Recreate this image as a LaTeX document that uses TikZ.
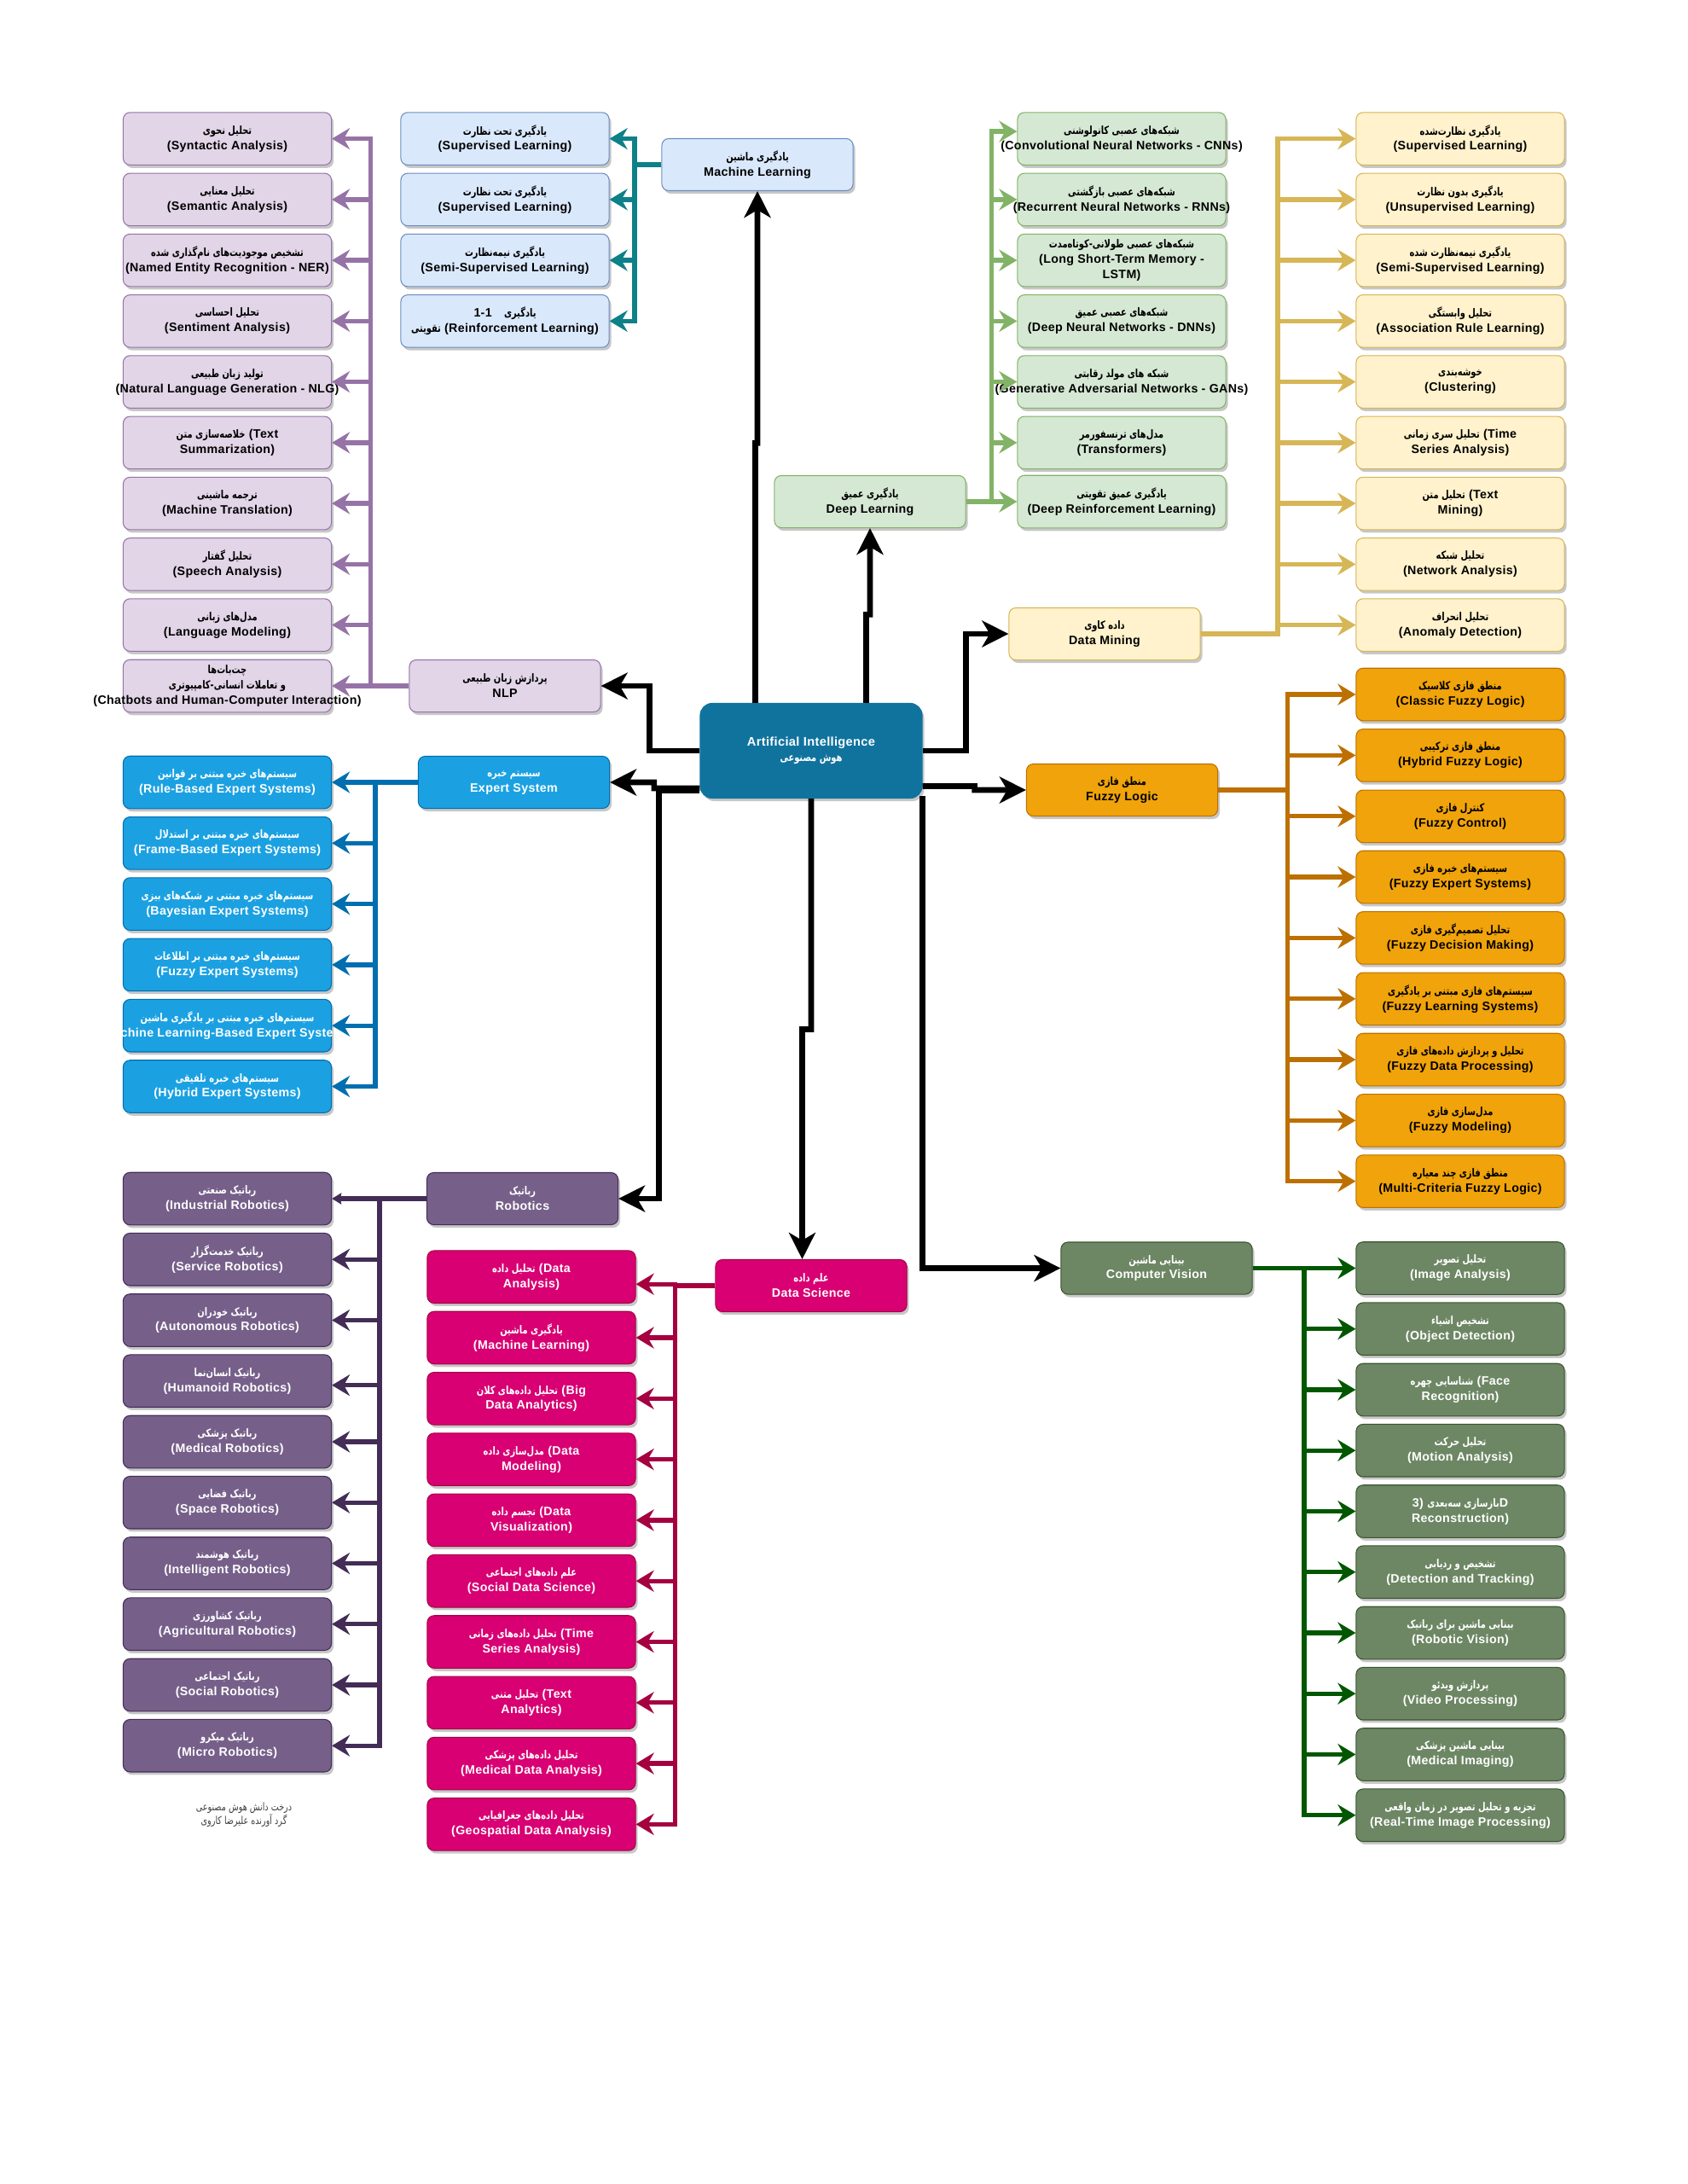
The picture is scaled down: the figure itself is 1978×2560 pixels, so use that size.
\documentclass[tikz,border=0pt]{standalone}
\usepackage{fontspec}
\setmainfont[LetterSpace=2.4]{Liberation Sans}
\newfontfamily\farsi[Script=Arabic,FakeStretch=0.76]{DejaVu Sans}
\TeXXeTstate=1
\usetikzlibrary{arrows.meta,shadows}

\newcommand{\fa}[1]{{\farsi\fontsize{3.7}{5}\selectfont\beginR #1\endR}}
\newcommand{\tline}[1]{\makebox[0pt]{#1}}
\newcommand{\leaf}[2]{\tline{\fa{#1}}\\\tline{#2}}

\definecolor{nlpfill}{HTML}{E1D5E7}\definecolor{nlpline}{HTML}{9673A6}
\definecolor{mlfill}{HTML}{DAE8FC}\definecolor{mlline}{HTML}{6C8EBF}\definecolor{mledge}{HTML}{0E8088}
\definecolor{dlfill}{HTML}{D5E8D4}\definecolor{dlline}{HTML}{82B366}
\definecolor{dmfill}{HTML}{FFF2CC}\definecolor{dmline}{HTML}{D6B656}
\definecolor{fzfill}{HTML}{F0A30A}\definecolor{fzline}{HTML}{BD7000}
\definecolor{esfill}{HTML}{1BA1E2}\definecolor{esline}{HTML}{006EAF}
\definecolor{rbfill}{HTML}{76608A}\definecolor{rbline}{HTML}{432D57}
\definecolor{dsfill}{HTML}{D80073}\definecolor{dsline}{HTML}{A50040}
\definecolor{cvfill}{HTML}{6D8764}\definecolor{cvline}{HTML}{3A5431}\definecolor{cvedge}{HTML}{005700}
\definecolor{aifill}{HTML}{10739E}

\tikzset{
  kbox/.style={draw,rounded corners=0.08cm,inner sep=0pt,align=center,line width=0.3pt,
    font=\fontsize{4.05}{5.1}\selectfont\bfseries,
    execute at begin node={\rule{0pt}{7.2pt}},
    drop shadow={shadow xshift=0.025cm,shadow yshift=-0.035cm,opacity=0.22,fill=black}},
  leafbox/.style={kbox,minimum width=2.44cm,minimum height=0.615cm},
  rootbox/.style={kbox,minimum width=2.24cm,minimum height=0.61cm},
  nlpbox/.style={fill=nlpfill,draw=nlpline},
  mlbox/.style={fill=mlfill,draw=mlline},
  dlbox/.style={fill=dlfill,draw=dlline},
  dmbox/.style={fill=dmfill,draw=dmline},
  fzbox/.style={fill=fzfill,draw=fzline},
  esbox/.style={fill=esfill,draw=esline,text=white},
  rbbox/.style={fill=rbfill,draw=rbline,text=white},
  dsbox/.style={fill=dsfill,draw=dsline,text=white},
  cvbox/.style={fill=cvfill,draw=cvline,text=white},
  branch/.style={line width=1.5pt,miter limit=10,-{Stealth[length=0.21cm,width=0.25cm,inset=0.07cm]}},
  smalltip/.style={line width=1.5pt,-{Stealth[length=0.11cm,width=0.13cm,inset=0.01cm]}},
  mainedge/.style={line width=1.9pt,black,-{Stealth[length=0.31cm,width=0.31cm,inset=0.09cm]}},
}

\begin{document}
\begin{tikzpicture}[x=0.01cm,y=-0.01cm]
  \useasboundingbox (0,0) rectangle (1978,2560);

  \node[kbox,fill=aifill,draw=aifill,text=white,rounded corners=0.14cm,minimum width=2.6cm,minimum height=1.11cm,font=\fontsize{4.15}{5.1}\selectfont\bfseries] (ai) at (951,880) {\tline{Artificial Intelligence}\\\tline{\fa{هوش مصنوعی}}};

  % natural language processing
  \node[rootbox,nlpbox] (nlp) at (592,804) {\leaf{پردازش زبان طبیعی}{NLP}};
  \node[leafbox,nlpbox] (nlp1) at (266.5,162.6) {\leaf{تحلیل نحوی}{(Syntactic Analysis)}};
  \node[leafbox,nlpbox] (nlp2) at (266.5,233.9) {\leaf{تحلیل معنایی}{(Semantic Analysis)}};
  \node[leafbox,nlpbox] (nlp3) at (266.5,305.1) {\leaf{تشخیص موجودیت‌های نام‌گذاری شده}{(Named Entity Recognition - NER)}};
  \node[leafbox,nlpbox] (nlp4) at (266.5,376.4) {\leaf{تحلیل احساسی}{(Sentiment Analysis)}};
  \node[leafbox,nlpbox] (nlp5) at (266.5,447.6) {\leaf{تولید زبان طبیعی}{(Natural Language Generation - NLG)}};
  \node[leafbox,nlpbox] (nlp6) at (266.5,518.9) {\tline{\fa{خلاصه‌سازی متن} (Text}\\\tline{Summarization)}};
  \node[leafbox,nlpbox] (nlp7) at (266.5,590.1) {\leaf{ترجمه ماشینی}{(Machine Translation)}};
  \node[leafbox,nlpbox] (nlp8) at (266.5,661.4) {\leaf{تحلیل گفتار}{(Speech Analysis)}};
  \node[leafbox,nlpbox] (nlp9) at (266.5,732.6) {\leaf{مدل‌های زبانی}{(Language Modeling)}};
  \node[leafbox,nlpbox] (nlp10) at (266.5,804) {\tline{\fa{چت‌بات‌ها}}\\\tline{\fa{و تعاملات انسانی-کامپیوتری}}\\\tline{(Chatbots and Human-Computer Interaction)}};

  % machine learning
  \node[rootbox,mlbox] (ml) at (888,193) {\leaf{یادگیری ماشین}{Machine Learning}};
  \node[leafbox,mlbox] (ml1) at (592,162.6) {\leaf{یادگیری تحت نظارت}{(Supervised Learning)}};
  \node[leafbox,mlbox] (ml2) at (592,233.9) {\leaf{یادگیری تحت نظارت}{(Supervised Learning)}};
  \node[leafbox,mlbox] (ml3) at (592,305.1) {\leaf{یادگیری نیمه‌نظارت}{(Semi-Supervised Learning)}};
  \node[leafbox,mlbox] (ml4) at (592,376.4) {\tline{1-1\quad\fa{یادگیری}}\\\tline{\fa{تقویتی} (Reinforcement Learning)}};

  % deep learning
  \node[rootbox,dlbox] (dl) at (1020,588) {\leaf{یادگیری عمیق}{Deep Learning}};
  \node[leafbox,dlbox] (dl1) at (1315,162.6) {\leaf{شبکه‌های عصبی کانولوشنی}{(Convolutional Neural Networks - CNNs)}};
  \node[leafbox,dlbox] (dl2) at (1315,233.9) {\leaf{شبکه‌های عصبی بازگشتی}{(Recurrent Neural Networks - RNNs)}};
  \node[leafbox,dlbox] (dl3) at (1315,305.1) {\tline{\fa{شبکه‌های عصبی طولانی-کوتاه‌مدت}}\\\tline{(Long Short-Term Memory -}\\\tline{LSTM)}};
  \node[leafbox,dlbox] (dl4) at (1315,376.4) {\leaf{شبکه‌های عصبی عمیق}{(Deep Neural Networks - DNNs)}};
  \node[leafbox,dlbox] (dl5) at (1315,447.6) {\leaf{شبکه های مولد رقابتی}{(Generative Adversarial Networks - GANs)}};
  \node[leafbox,dlbox] (dl6) at (1315,518.9) {\leaf{مدل‌های ترنسفورمر}{(Transformers)}};
  \node[leafbox,dlbox] (dl7) at (1315,588) {\leaf{یادگیری عمیق تقویتی}{(Deep Reinforcement Learning)}};

  % data mining
  \node[rootbox,dmbox] (dm) at (1295,743) {\leaf{داده کاوی}{Data Mining}};
  \node[leafbox,dmbox] (dm1) at (1712,162.6) {\leaf{یادگیری نظارت‌شده}{(Supervised Learning)}};
  \node[leafbox,dmbox] (dm2) at (1712,233.9) {\leaf{یادگیری بدون نظارت}{(Unsupervised Learning)}};
  \node[leafbox,dmbox] (dm3) at (1712,305.1) {\leaf{یادگیری نیمه‌نظارت شده}{(Semi-Supervised Learning)}};
  \node[leafbox,dmbox] (dm4) at (1712,376.4) {\leaf{تحلیل وابستگی}{(Association Rule Learning)}};
  \node[leafbox,dmbox] (dm5) at (1712,447.6) {\leaf{خوشه‌بندی}{(Clustering)}};
  \node[leafbox,dmbox] (dm6) at (1712,518.9) {\tline{\fa{تحلیل سری زمانی} (Time}\\\tline{Series Analysis)}};
  \node[leafbox,dmbox] (dm7) at (1712,590.1) {\tline{\fa{تحلیل متن} (Text}\\\tline{Mining)}};
  \node[leafbox,dmbox] (dm8) at (1712,661.4) {\leaf{تحلیل شبکه}{(Network Analysis)}};
  \node[leafbox,dmbox] (dm9) at (1712,732.6) {\leaf{تحلیل انحراف}{(Anomaly Detection)}};

  % fuzzy logic
  \node[rootbox,fzbox] (fz) at (1315.5,926) {\leaf{منطق فازی}{Fuzzy Logic}};
  \node[leafbox,fzbox] (fz1) at (1712,814) {\leaf{منطق فازی کلاسیک}{(Classic Fuzzy Logic)}};
  \node[leafbox,fzbox] (fz2) at (1712,885.4) {\leaf{منطق فازی ترکیبی}{(Hybrid Fuzzy Logic)}};
  \node[leafbox,fzbox] (fz3) at (1712,956.8) {\leaf{کنترل فازی}{(Fuzzy Control)}};
  \node[leafbox,fzbox] (fz4) at (1712,1028) {\leaf{سیستم‌های خبره فازی}{(Fuzzy Expert Systems)}};
  \node[leafbox,fzbox] (fz5) at (1712,1099.4) {\leaf{تحلیل تصمیم‌گیری فازی}{(Fuzzy Decision Making)}};
  \node[leafbox,fzbox] (fz6) at (1712,1170.8) {\leaf{سیستم‌های فازی مبتنی بر یادگیری}{(Fuzzy Learning Systems)}};
  \node[leafbox,fzbox] (fz7) at (1712,1242) {\leaf{تحلیل و پردازش داده‌های فازی}{(Fuzzy Data Processing)}};
  \node[leafbox,fzbox] (fz8) at (1712,1313.4) {\leaf{مدل‌سازی فازی}{(Fuzzy Modeling)}};
  \node[leafbox,fzbox] (fz9) at (1712,1384.6) {\leaf{منطق فازی چند معیاره}{(Multi-Criteria Fuzzy Logic)}};

  % expert systems
  \node[rootbox,esbox] (es) at (602.5,917) {\leaf{سیستم خبره}{Expert System}};
  \node[leafbox,esbox] (es1) at (266.5,917) {\leaf{سیستم‌های خبره مبتنی بر قوانین}{(Rule-Based Expert Systems)}};
  \node[leafbox,esbox] (es2) at (266.5,988.3) {\leaf{سیستم‌های خبره مبتنی بر استدلال}{(Frame-Based Expert Systems)}};
  \node[leafbox,esbox] (es3) at (266.5,1059.6) {\leaf{سیستم‌های خبره مبتنی بر شبکه‌های بیزی}{(Bayesian Expert Systems)}};
  \node[leafbox,esbox] (es4) at (266.5,1130.9) {\leaf{سیستم‌های خبره مبتنی بر اطلاعات}{(Fuzzy Expert Systems)}};
  \node[leafbox,esbox] (es5) at (266.5,1202.2) {\leaf{سیستم‌های خبره مبتنی بر یادگیری ماشین}{(Machine Learning-Based Expert Systems)}};
  \node[leafbox,esbox] (es6) at (266.5,1273.5) {\leaf{سیستم‌های خبره تلفیقی}{(Hybrid Expert Systems)}};

  % robotics
  \node[rootbox,rbbox] (rb) at (612.5,1405) {\leaf{رباتیک}{Robotics}};
  \node[leafbox,rbbox] (rb1) at (266.5,1405) {\leaf{رباتیک صنعتی}{(Industrial Robotics)}};
  \node[leafbox,rbbox] (rb2) at (266.5,1476.2) {\leaf{رباتیک خدمت‌گزار}{(Service Robotics)}};
  \node[leafbox,rbbox] (rb3) at (266.5,1547.5) {\leaf{رباتیک خودران}{(Autonomous Robotics)}};
  \node[leafbox,rbbox] (rb4) at (266.5,1618.7) {\leaf{رباتیک انسان‌نما}{(Humanoid Robotics)}};
  \node[leafbox,rbbox] (rb5) at (266.5,1690) {\leaf{رباتیک پزشکی}{(Medical Robotics)}};
  \node[leafbox,rbbox] (rb6) at (266.5,1761.2) {\leaf{رباتیک فضایی}{(Space Robotics)}};
  \node[leafbox,rbbox] (rb7) at (266.5,1832.5) {\leaf{رباتیک هوشمند}{(Intelligent Robotics)}};
  \node[leafbox,rbbox] (rb8) at (266.5,1903.7) {\leaf{رباتیک کشاورزی}{(Agricultural Robotics)}};
  \node[leafbox,rbbox] (rb9) at (266.5,1975) {\leaf{رباتیک اجتماعی}{(Social Robotics)}};
  \node[leafbox,rbbox] (rb10) at (266.5,2046.2) {\leaf{رباتیک میکرو}{(Micro Robotics)}};

  % data science
  \node[rootbox,dsbox] (ds) at (951,1507) {\leaf{علم داده}{Data Science}};
  \node[leafbox,dsbox] (ds1) at (623,1496.7) {\tline{\fa{تحلیل داده} (Data}\\\tline{Analysis)}};
  \node[leafbox,dsbox] (ds2) at (623,1568) {\leaf{یادگیری ماشین}{(Machine Learning)}};
  \node[leafbox,dsbox] (ds3) at (623,1639.3) {\tline{\fa{تحلیل داده‌های کلان} (Big}\\\tline{Data Analytics)}};
  \node[leafbox,dsbox] (ds4) at (623,1710.6) {\tline{\fa{مدل‌سازی داده} (Data}\\\tline{Modeling)}};
  \node[leafbox,dsbox] (ds5) at (623,1781.9) {\tline{\fa{تجسم داده} (Data}\\\tline{Visualization)}};
  \node[leafbox,dsbox] (ds6) at (623,1853.2) {\leaf{علم داده‌های اجتماعی}{(Social Data Science)}};
  \node[leafbox,dsbox] (ds7) at (623,1924.5) {\tline{\fa{تحلیل داده‌های زمانی} (Time}\\\tline{Series Analysis)}};
  \node[leafbox,dsbox] (ds8) at (623,1995.8) {\tline{\fa{تحلیل متنی} (Text}\\\tline{Analytics)}};
  \node[leafbox,dsbox] (ds9) at (623,2067.1) {\leaf{تحلیل داده‌های پزشکی}{(Medical Data Analysis)}};
  \node[leafbox,dsbox] (ds10) at (623,2138.4) {\leaf{تحلیل داده‌های جغرافیایی}{(Geospatial Data Analysis)}};

  % computer vision
  \node[rootbox,cvbox] (cv) at (1356,1486.5) {\leaf{بینایی ماشین}{Computer Vision}};
  \node[leafbox,cvbox] (cv1) at (1712,1486.5) {\leaf{تحلیل تصویر}{(Image Analysis)}};
  \node[leafbox,cvbox] (cv2) at (1712,1557.7) {\leaf{تشخیص اشیاء}{(Object Detection)}};
  \node[leafbox,cvbox] (cv3) at (1712,1629) {\tline{\fa{شناسایی چهره} (Face}\\\tline{Recognition)}};
  \node[leafbox,cvbox] (cv4) at (1712,1700.2) {\leaf{تحلیل حرکت}{(Motion Analysis)}};
  \node[leafbox,cvbox] (cv5) at (1712,1771.5) {\tline{3)\ \fa{بازسازی سه‌بعدی}D}\\\tline{Reconstruction)}};
  \node[leafbox,cvbox] (cv6) at (1712,1842.7) {\leaf{تشخیص و ردیابی}{(Detection and Tracking)}};
  \node[leafbox,cvbox] (cv7) at (1712,1914) {\leaf{بینایی ماشین برای رباتیک}{(Robotic Vision)}};
  \node[leafbox,cvbox] (cv8) at (1712,1985.2) {\leaf{پردازش ویدئو}{(Video Processing)}};
  \node[leafbox,cvbox] (cv9) at (1712,2056.5) {\leaf{بینایی ماشین پزشکی}{(Medical Imaging)}};
  \node[leafbox,cvbox] (cv10) at (1712,2127.7) {\leaf{تجزیه و تحلیل تصویر در زمان واقعی}{(Real-Time Image Processing)}};

  \node[align=center,text=black!75,font=\fontsize{3.5}{4.4}\selectfont] (credit) at (286,2127) {{\farsi\fontsize{3.6}{4.4}\selectfont\beginR درخت دانش هوش مصنوعی\endR}\\{\farsi\fontsize{3.6}{4.4}\selectfont\beginR گرد آورنده علیرضا کاروی\endR}};

  \coordinate (nlpbus) at (434.6,804);
  \coordinate (mlbus) at (744,193);
  \coordinate (dlbus) at (1162.5,588);
  \coordinate (dmbus) at (1498,743);
  \coordinate (fzbus) at (1509.5,926);
  \coordinate (esbus) at (440,917);
  \coordinate (rbbus) at (445,1405);
  \coordinate (dsbus) at (791.6,1507);
  \coordinate (cvbus) at (1529,1486.5);

  \draw[mainedge] ([xshift=-0.655cm]ai.north) -- ++(0,-304.6) -- ++(2.5,0) -- (ml.south);
  \draw[mainedge] ([xshift=0.645cm]ai.north) -- ++(0,-103.6) -- ++(4.5,0) -- (dl.south);
  \draw[mainedge] (ai.east) -- ++(51,0) |- (dm.west);
  \draw[mainedge] ([yshift=-0.415cm]ai.east) -- ++(61,0) -- ++(0,4.5) -- (fz.west);
  \draw[mainedge] ([yshift=-0.525cm]ai.east) |- (cv.west);
  \draw[mainedge] (ai.south) -- ++(0,270.5) -- ++(-10.5,0) -- ([xshift=-0.105cm]ds.north);
  \draw[mainedge] (ai.west) -- ++(-59,0) |- (nlp.east);
  \draw[mainedge] ([yshift=-0.44cm]ai.west) -- ++(-53.5,0) -- ++(0,-7) -- (es.east);
  \draw[mainedge] ([yshift=-0.47cm]ai.west) -- ++(-48,0) |- (rb.east);

  \draw[branch,nlpline] (nlp.west) -- (nlpbus) |- (nlp1.east);
  \draw[branch,nlpline] (nlp.west) -- (nlpbus) |- (nlp2.east);
  \draw[branch,nlpline] (nlp.west) -- (nlpbus) |- (nlp3.east);
  \draw[branch,nlpline] (nlp.west) -- (nlpbus) |- (nlp4.east);
  \draw[branch,nlpline] (nlp.west) -- (nlpbus) |- (nlp5.east);
  \draw[branch,nlpline] (nlp.west) -- (nlpbus) |- (nlp6.east);
  \draw[branch,nlpline] (nlp.west) -- (nlpbus) |- (nlp7.east);
  \draw[branch,nlpline] (nlp.west) -- (nlpbus) |- (nlp8.east);
  \draw[branch,nlpline] (nlp.west) -- (nlpbus) |- (nlp9.east);
  \draw[branch,nlpline] (nlp.west) -- (nlp10.east);

  \draw[branch,mledge] (ml.west) -- (mlbus) |- (ml1.east);
  \draw[branch,mledge] (ml.west) -- (mlbus) |- (ml2.east);
  \draw[branch,mledge] (ml.west) -- (mlbus) |- (ml3.east);
  \draw[branch,mledge] (ml.west) -- (mlbus) |- (ml4.east);

  \draw[branch,dlline] (dl.east) -- (dlbus) |- ([yshift=0.085cm]dl1.west);
  \draw[branch,dlline] (dl.east) -- (dlbus) |- (dl2.west);
  \draw[branch,dlline] (dl.east) -- (dlbus) |- (dl3.west);
  \draw[branch,dlline] (dl.east) -- (dlbus) |- (dl4.west);
  \draw[branch,dlline] (dl.east) -- (dlbus) |- (dl5.west);
  \draw[branch,dlline] (dl.east) -- (dlbus) |- (dl6.west);
  \draw[branch,dlline] (dl.east) -- (dl7.west);

  \draw[branch,dmline] (dm.east) -- (dmbus) |- (dm1.west);
  \draw[branch,dmline] (dm.east) -- (dmbus) |- (dm2.west);
  \draw[branch,dmline] (dm.east) -- (dmbus) |- (dm3.west);
  \draw[branch,dmline] (dm.east) -- (dmbus) |- (dm4.west);
  \draw[branch,dmline] (dm.east) -- (dmbus) |- (dm5.west);
  \draw[branch,dmline] (dm.east) -- (dmbus) |- (dm6.west);
  \draw[branch,dmline] (dm.east) -- (dmbus) |- (dm7.west);
  \draw[branch,dmline] (dm.east) -- (dmbus) |- (dm8.west);
  \draw[branch,dmline] (dm.east) -- (dmbus) |- (dm9.west);

  \draw[branch,fzline] (fz.east) -- (fzbus) |- (fz1.west);
  \draw[branch,fzline] (fz.east) -- (fzbus) |- (fz2.west);
  \draw[branch,fzline] (fz.east) -- (fzbus) |- (fz3.west);
  \draw[branch,fzline] (fz.east) -- (fzbus) |- (fz4.west);
  \draw[branch,fzline] (fz.east) -- (fzbus) |- (fz5.west);
  \draw[branch,fzline] (fz.east) -- (fzbus) |- (fz6.west);
  \draw[branch,fzline] (fz.east) -- (fzbus) |- (fz7.west);
  \draw[branch,fzline] (fz.east) -- (fzbus) |- (fz8.west);
  \draw[branch,fzline] (fz.east) -- (fzbus) |- (fz9.west);

  \draw[branch,esline] (es.west) -- (es1.east);
  \draw[branch,esline] (es.west) -- (esbus) |- (es2.east);
  \draw[branch,esline] (es.west) -- (esbus) |- (es3.east);
  \draw[branch,esline] (es.west) -- (esbus) |- (es4.east);
  \draw[branch,esline] (es.west) -- (esbus) |- (es5.east);
  \draw[branch,esline] (es.west) -- (esbus) |- (es6.east);

  \draw[smalltip,rbline] (rb.west) -- (rb1.east);
  \draw[branch,rbline] (rb.west) -- (rbbus) |- (rb2.east);
  \draw[branch,rbline] (rb.west) -- (rbbus) |- (rb3.east);
  \draw[branch,rbline] (rb.west) -- (rbbus) |- ([yshift=-0.05cm]rb4.east);
  \draw[branch,rbline] (rb.west) -- (rbbus) |- (rb5.east);
  \draw[branch,rbline] (rb.west) -- (rbbus) |- (rb6.east);
  \draw[branch,rbline] (rb.west) -- (rbbus) |- (rb7.east);
  \draw[branch,rbline] (rb.west) -- (rbbus) |- (rb8.east);
  \draw[branch,rbline] (rb.west) -- (rbbus) |- (rb9.east);
  \draw[branch,rbline] (rb.west) -- (rbbus) |- (rb10.east);

  \draw[branch,dsline] (ds.west) -- (dsbus) |- ([yshift=-0.085cm]ds1.east);
  \draw[branch,dsline] (ds.west) -- (dsbus) |- (ds2.east);
  \draw[branch,dsline] (ds.west) -- (dsbus) |- (ds3.east);
  \draw[branch,dsline] (ds.west) -- (dsbus) |- (ds4.east);
  \draw[branch,dsline] (ds.west) -- (dsbus) |- (ds5.east);
  \draw[branch,dsline] (ds.west) -- (dsbus) |- (ds6.east);
  \draw[branch,dsline] (ds.west) -- (dsbus) |- (ds7.east);
  \draw[branch,dsline] (ds.west) -- (dsbus) |- (ds8.east);
  \draw[branch,dsline] (ds.west) -- (dsbus) |- (ds9.east);
  \draw[branch,dsline] (ds.west) -- (dsbus) |- (ds10.east);

  \draw[branch,cvedge] (cv.east) -- (cv1.west);
  \draw[branch,cvedge] (cv.east) -- (cvbus) |- (cv2.west);
  \draw[branch,cvedge] (cv.east) -- (cvbus) |- (cv3.west);
  \draw[branch,cvedge] (cv.east) -- (cvbus) |- (cv4.west);
  \draw[branch,cvedge] (cv.east) -- (cvbus) |- (cv5.west);
  \draw[branch,cvedge] (cv.east) -- (cvbus) |- (cv6.west);
  \draw[branch,cvedge] (cv.east) -- (cvbus) |- (cv7.west);
  \draw[branch,cvedge] (cv.east) -- (cvbus) |- (cv8.west);
  \draw[branch,cvedge] (cv.east) -- (cvbus) |- (cv9.west);
  \draw[branch,cvedge] (cv.east) -- (cvbus) |- (cv10.west);

\end{tikzpicture}
\end{document}
